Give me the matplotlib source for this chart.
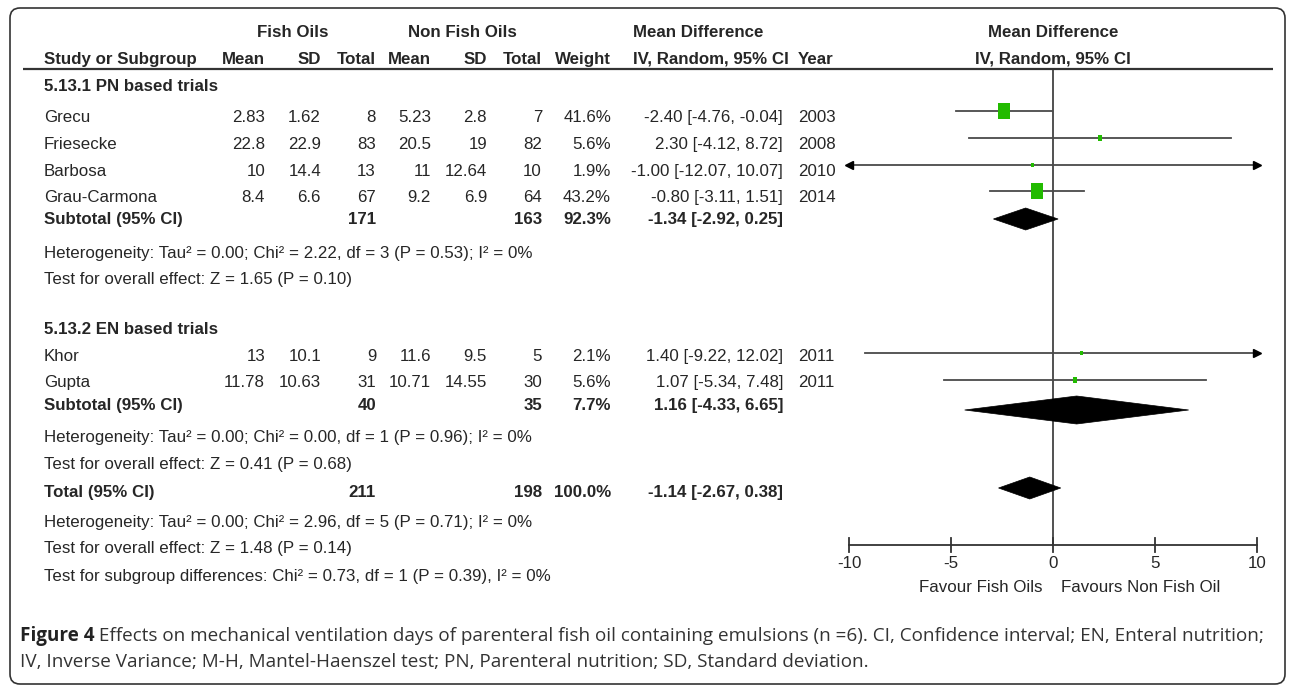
import matplotlib
matplotlib.use("Agg")
import matplotlib.pyplot as plt
from matplotlib.patches import Rectangle, Polygon, FancyBboxPatch

# ---------------- data ----------------
studies = ["Grecu", "Friesecke", "Barbosa", "Grau-Carmona", "Khor", "Gupta"]
group = [0, 0, 0, 0, 1, 1]
fo_mean = [2.83, 22.8, 10, 8.4, 13, 11.78]
fo_sd = [1.62, 22.9, 14.4, 6.6, 10.1, 10.63]
fo_n = [8, 83, 13, 67, 9, 31]
nfo_mean = [5.23, 20.5, 11, 9.2, 11.6, 10.71]
nfo_sd = [2.8, 19, 12.64, 6.9, 9.5, 14.55]
nfo_n = [7, 82, 10, 64, 5, 30]
weight = [41.6, 5.6, 1.9, 43.2, 2.1, 5.6]
md = [-2.40, 2.30, -1.00, -0.80, 1.40, 1.07]
md_lo = [-4.76, -4.12, -12.07, -3.11, -9.22, -5.34]
md_hi = [-0.04, 8.72, 10.07, 1.51, 12.02, 7.48]
year = [2003, 2008, 2010, 2014, 2011, 2011]

group_titles = ["5.13.1 PN based trials", "5.13.2 EN based trials"]
sub_md = [-1.34, 1.16]
sub_lo = [-2.92, -4.33]
sub_hi = [0.25, 6.65]
sub_het = ["Heterogeneity: Tau\u00b2 = 0.00; Chi\u00b2 = 2.22, df = 3 (P = 0.53); I\u00b2 = 0%",
           "Heterogeneity: Tau\u00b2 = 0.00; Chi\u00b2 = 0.00, df = 1 (P = 0.96); I\u00b2 = 0%"]
sub_test = ["Test for overall effect: Z = 1.65 (P = 0.10)",
            "Test for overall effect: Z = 0.41 (P = 0.68)"]
tot_md, tot_lo, tot_hi = -1.14, -2.67, 0.38
tot_het = "Heterogeneity: Tau\u00b2 = 0.00; Chi\u00b2 = 2.96, df = 5 (P = 0.71); I\u00b2 = 0%"
tot_test = "Test for overall effect: Z = 1.48 (P = 0.14)"
tot_sub = "Test for subgroup differences: Chi\u00b2 = 0.73, df = 1 (P = 0.39), I\u00b2 = 0%"
ticks = [-10, -5, 0, 5, 10]
favour_left = "Favour Fish Oils"
favour_right = "Favours Non Fish Oil"
caption_bold = "Figure 4"
caption_1 = (" Effects on mechanical ventilation days of parenteral fish oil containing "
             "emulsions (n =6). CI, Confidence interval; EN, Enteral nutrition;")
caption_2 = ("IV, Inverse Variance; M-H, Mantel-Haenszel test; PN, Parenteral nutrition; "
             "SD, Standard deviation.")

# ---------------- layout (pixels) ----------------
W, H = 1292, 685
X_LO, X_HI = 849, 1257           # pixel positions of -10 and +10
study_y = [117, 144, 171, 197, 356, 382]
mark_y = [111, 138, 165, 191, 353, 380]
title_y = [86, 329]
sub_y = [219, 405]
sub_mark_y = [219, 410]
het_y = [253, 437]
test_y = [279, 464]
total_y, tot_mark_y, tot_het_y, tot_test_y, tot_sub_y = 492, 488, 522, 549, 577
axis_y = 545
col_r = {"fm": 265, "fs": 321, "fn": 376, "nm": 431, "ns": 487, "nn": 542, "w": 611, "ci": 783}
x_name, x_year = 44, 798
TXT = "#262626"
FONT = "Liberation Sans"
GREEN = "#22bb00"

fig = plt.figure(figsize=(W / 100, H / 100), dpi=100)
ax = fig.add_axes([0, 0, 1, 1])
ax.set_xlim(0, W)
ax.set_ylim(H, 0)
ax.axis("off")
fx = fig.add_axes([X_LO / W, 0, (X_HI - X_LO) / W, 1])
fx.set_xlim(ticks[0], ticks[-1])
fx.set_ylim(H, 0)
fx.axis("off")
px_per_unit = (X_HI - X_LO) / (ticks[-1] - ticks[0])

renderer = fig.canvas.get_renderer()


def fit_size(s, target, family, weight="normal", base=10):
    t = ax.text(0, 0, s, fontsize=base, family=family, weight=weight)
    w = t.get_window_extent(renderer).width
    t.remove()
    return base * target / w


FS = fit_size(sub_het[0], 486, FONT)


def T(x, y, s, ha="left", bold=False, **kw):
    return ax.text(x, y, s, ha=ha, va="center", fontsize=kw.pop("fs", FS), family=FONT,
                   weight="bold" if bold else "normal", color=TXT, **kw)


def num(v):
    return f"{v:g}"


def ci(m, l, h):
    return f"{m:.2f} [{l:.2f}, {h:.2f}]"


def diamond(m, l, h, y, half=12):
    fx.add_patch(Polygon([(l, y), (m, y - half), (h, y), (m, y + half)],
                         closed=True, facecolor="black", edgecolor="black", lw=0.5,
                         clip_on=False, zorder=5))


# headers
T(293, 32, "Fish Oils", ha="center", bold=True)
T(462, 32, "Non Fish Oils", ha="center", bold=True)
T(633, 32, "Mean Difference", bold=True)
T(1053, 32, "Mean Difference", ha="center", bold=True)
T(x_name, 59, "Study or Subgroup", bold=True)
for key, lab in [("fm", "Mean"), ("fs", "SD"), ("fn", "Total"), ("nm", "Mean"),
                 ("ns", "SD"), ("nn", "Total"), ("w", "Weight")]:
    T(col_r[key], 59, lab, ha="right", bold=True)
T(633, 59, "IV, Random, 95% CI", bold=True)
T(x_year, 59, "Year", bold=True)
T(1053, 59, "IV, Random, 95% CI", ha="center", bold=True)
ax.plot([23, 1273], [69, 69], color="#333333", lw=1.6, solid_capstyle="butt")

# study rows
for i, name in enumerate(studies):
    y = study_y[i]
    T(x_name, y, name)
    T(col_r["fm"], y, num(fo_mean[i]), ha="right")
    T(col_r["fs"], y, num(fo_sd[i]), ha="right")
    T(col_r["fn"], y, str(fo_n[i]), ha="right")
    T(col_r["nm"], y, num(nfo_mean[i]), ha="right")
    T(col_r["ns"], y, num(nfo_sd[i]), ha="right")
    T(col_r["nn"], y, str(nfo_n[i]), ha="right")
    T(col_r["w"], y, f"{weight[i]:.1f}%", ha="right")
    T(col_r["ci"], y, ci(md[i], md_lo[i], md_hi[i]), ha="right")
    T(x_year, y, str(year[i]))

    # forest marks
    ly = mark_y[i]
    lo = max(md_lo[i], ticks[0])
    hi = min(md_hi[i], ticks[-1])
    fx.plot([lo, hi], [ly, ly], color="#4a4a4a", lw=1.3, clip_on=False, zorder=2)
    if md_lo[i] < ticks[0]:
        fx.plot([ticks[0]], [ly], marker="<", ms=6, color="black", clip_on=False, zorder=3)
    if md_hi[i] > ticks[-1]:
        fx.plot([ticks[-1]], [ly], marker=">", ms=6, color="black", clip_on=False, zorder=3)
    wpx = 1.8 * weight[i] ** 0.5
    hpx = 2.5 * weight[i] ** 0.5
    wd = wpx / px_per_unit
    fx.add_patch(Rectangle((md[i] - wd / 2, ly - hpx / 2), wd, hpx, facecolor=GREEN,
                           edgecolor="none", clip_on=False, zorder=4))

# subgroup summary rows
for g in range(2):
    T(x_name, title_y[g], group_titles[g], bold=True)
    idx = [i for i in range(len(studies)) if group[i] == g]
    T(x_name, sub_y[g], "Subtotal (95% CI)", bold=True)
    T(col_r["fn"], sub_y[g], str(sum(fo_n[i] for i in idx)), ha="right", bold=True)
    T(col_r["nn"], sub_y[g], str(sum(nfo_n[i] for i in idx)), ha="right", bold=True)
    T(col_r["w"], sub_y[g], f"{sum(weight[i] for i in idx):.1f}%", ha="right", bold=True)
    T(col_r["ci"], sub_y[g], ci(sub_md[g], sub_lo[g], sub_hi[g]), ha="right", bold=True)
    T(x_name, het_y[g], sub_het[g])
    T(x_name, test_y[g], sub_test[g])
    diamond(sub_md[g], sub_lo[g], sub_hi[g], sub_mark_y[g], half=11 if g == 0 else 14)

# total row
T(x_name, total_y, "Total (95% CI)", bold=True)
T(col_r["fn"], total_y, str(sum(fo_n)), ha="right", bold=True)
T(col_r["nn"], total_y, str(sum(nfo_n)), ha="right", bold=True)
T(col_r["w"], total_y, f"{sum(weight):.1f}%", ha="right", bold=True)
T(col_r["ci"], total_y, ci(tot_md, tot_lo, tot_hi), ha="right", bold=True)
T(x_name, tot_het_y, tot_het)
T(x_name, tot_test_y, tot_test)
ts = T(x_name, tot_sub_y, tot_sub)
ts.set_clip_path(Rectangle((0, 0), W, 583, transform=ax.transData))
diamond(tot_md, tot_lo, tot_hi, tot_mark_y, half=11)

# reference line and axis
fx.plot([0, 0], [69, axis_y], color="#333333", lw=1.2, clip_on=False, zorder=1)
fx.plot([ticks[0], ticks[-1]], [axis_y, axis_y], color="#333333", lw=1.3, clip_on=False)
for t in ticks:
    fx.plot([t, t], [axis_y - 7, axis_y + 7], color="#333333", lw=1.3, clip_on=False)
    fx.text(t, 564, f"{t}", ha="center", va="center", fontsize=FS, family=FONT, color=TXT)
fx.text(-0.5, 587, favour_left, ha="right", va="center", fontsize=FS, family=FONT, color=TXT)
fx.text(0.4, 587, favour_right, ha="left", va="center", fontsize=FS, family=FONT, color=TXT)

# caption
CF = "Open Sans"
CS = fit_size(caption_bold + caption_1, 1242, CF)
tb = ax.text(20, 636, caption_bold, ha="left", va="center", fontsize=CS, family=CF,
             weight="bold", color="#222222")
bw = tb.get_window_extent(renderer).width
ax.text(20 + bw, 636, caption_1, ha="left", va="center", fontsize=CS, family=CF, color="#333333")
ax.text(20, 662, caption_2, ha="left", va="center", fontsize=CS, family=CF, color="#333333")

# frame
ax.add_patch(FancyBboxPatch((10, 8), 1275, 676, boxstyle="round,pad=0,rounding_size=10",
                            facecolor="none", edgecolor="#333333", lw=1.2))

fig.savefig("out.png", dpi=100)
